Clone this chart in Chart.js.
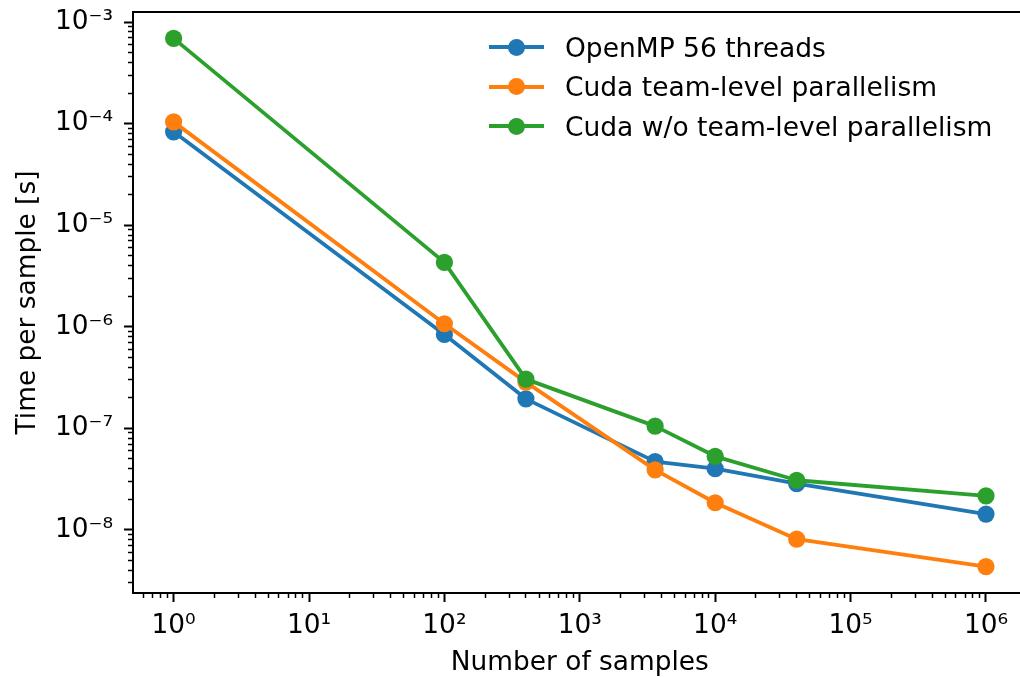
<!DOCTYPE html>
<html>
<head>
<meta charset="utf-8">
<title>Time per sample</title>
<script src="https://cdn.jsdelivr.net/npm/chart.js@4/dist/chart.umd.min.js"></script>
<style>
  html, body { margin: 0; padding: 0; background: #fff; overflow: hidden; }
  #wrap { position: relative; width: 1030px; height: 677px; }
  #legend { position: absolute; left: 489px; top: 27.6px; font-family: 'DejaVu Sans'; font-size: 26.5px; color: #000; }
  .item { display: flex; align-items: center; height: 39.4px; white-space: nowrap; }
  .key { position: relative; width: 55px; height: 39.4px; margin-right: 21px; }
  .key .line { position: absolute; left: 0; right: 0; top: 17.7px; height: 4px; }
  .key .dot { position: absolute; left: 18.5px; top: 11.2px; width: 17px; height: 17px; border-radius: 50%; }
</style>
</head>
<body>
<div id="wrap">
  <canvas id="chart" width="1030" height="677"></canvas>
  <div id="legend"></div>
</div>
<script>
// samples per run and measured time per sample [s]
const samples = [1, 100, 400, 3600, 10000, 40000, 1000000];
const openmp = [8.3e-5, 8.4e-7, 1.95e-7, 4.7e-8, 4.0e-8, 2.85e-8, 1.43e-8];
const cudaTeam = [1.04e-4, 1.07e-6, 2.85e-7, 3.9e-8, 1.85e-8, 8.1e-9, 4.35e-9];
const cudaNoTeam = [6.9e-4, 4.3e-6, 3.05e-7, 1.05e-7, 5.3e-8, 3.08e-8, 2.16e-8];

const seriesNames = ['OpenMP 56 threads', 'Cuda team-level parallelism', 'Cuda w/o team-level parallelism'];
const seriesColors = ['#1f77b4', '#ff7f0e', '#2ca02c'];
const seriesValues = [openmp, cudaTeam, cudaNoTeam];

// decade exponents that get a labelled tick
const xDecades = [0, 1, 2, 3, 4, 5, 6];
const yDecades = [-8, -7, -6, -5, -4, -3];

const FONT = 'DejaVu Sans';
const FONT_SIZE = 26.4;

// log limits padded by 5% of the data span, like matplotlib autoscaling
function logLimits(values) {
  const lo = Math.log10(Math.min(...values));
  const hi = Math.log10(Math.max(...values));
  const m = 0.05 * (hi - lo);
  return [Math.pow(10, lo - m), Math.pow(10, hi + m)];
}
const [xMin, xMax] = logLimits(samples);
const [yMin, yMax] = logLimits([...openmp, ...cudaTeam, ...cudaNoTeam]);

const SUP = { '-': '\u207B', '0': '\u2070', '1': '\u00B9', '2': '\u00B2', '3': '\u00B3',
  '4': '\u2074', '5': '\u2075', '6': '\u2076', '7': '\u2077', '8': '\u2078', '9': '\u2079' };
function powerLabel(value) {
  const e = Math.round(Math.log10(value));
  return '10' + String(e).split('').map(c => SUP[c]).join('');
}

function decadeTicks(exps) {
  return exps.map(e => ({ value: Number('1e' + e), major: true }));
}
function minorTicks(min, max) {
  const out = [];
  for (let e = Math.floor(Math.log10(min)); e <= Math.ceil(Math.log10(max)); e++) {
    for (let m = 2; m <= 9; m++) {
      const v = Number(m + 'e' + e);
      if (v >= min && v <= max) out.push({ value: v });
    }
  }
  return out;
}

const font = { family: FONT, size: FONT_SIZE, lineHeight: 1.2 };
const noPadding = s => { s.paddingLeft = 0; s.paddingRight = 0; s.paddingTop = 0; s.paddingBottom = 0; };

// legend as plain html
const legend = document.getElementById('legend');
seriesNames.forEach((name, i) => {
  const item = document.createElement('div');
  item.className = 'item';
  item.innerHTML = `<span class="key"><span class="line" style="background:${seriesColors[i]}"></span>` +
    `<span class="dot" style="background:${seriesColors[i]}"></span></span><span>${name}</span>`;
  legend.appendChild(item);
});

// axes box around the plotting area
const frame = {
  id: 'frame',
  afterDraw(chart) {
    const { ctx, chartArea: a } = chart;
    ctx.save();
    ctx.strokeStyle = '#000';
    ctx.lineWidth = 2;
    ctx.strokeRect(a.left, a.top, a.right - a.left, a.bottom - a.top);
    ctx.restore();
  }
};

new Chart(document.getElementById('chart'), {
  type: 'line',
  data: {
    datasets: seriesNames.map((name, i) => ({
      label: name,
      data: samples.map((x, j) => ({ x, y: seriesValues[i][j] })),
      borderColor: seriesColors[i],
      backgroundColor: seriesColors[i],
      pointBackgroundColor: seriesColors[i],
      borderWidth: 3.8,
      borderJoinStyle: 'round',
      pointRadius: 8.6,
      pointHoverRadius: 8.6,
      pointBorderWidth: 0,
      tension: 0,
      order: seriesNames.length - i
    }))
  },
  options: {
    responsive: false,
    animation: false,
    events: [],
    // right edge of the axes box sits just past the visible page
    layout: { autoPadding: false, padding: { top: 12, right: 3.4, left: 0, bottom: 0 } },
    plugins: { legend: { display: false }, tooltip: { enabled: false } },
    scales: {
      x: {
        type: 'logarithmic', position: 'bottom', weight: 1, bounds: 'data',
        min: xMin, max: xMax,
        afterBuildTicks: s => { s.ticks = decadeTicks(xDecades); },
        afterFit: s => { s.height = 84; noPadding(s); },
        border: { display: false },
        grid: { display: true, drawOnChartArea: false, tickLength: 9, tickWidth: 2, tickColor: '#000' },
        ticks: { autoSkip: false, maxRotation: 0, minRotation: 0, padding: 8, color: '#000', font,
          callback: v => powerLabel(v) },
        title: { display: true, text: 'Number of samples', color: '#000', font, padding: { top: 0, bottom: -2.4 } }
      },
      xm: {
        type: 'logarithmic', position: 'bottom', weight: 0, bounds: 'data',
        min: xMin, max: xMax,
        afterBuildTicks: s => { s.ticks = minorTicks(xMin, xMax); },
        afterFit: s => { s.height = 0; noPadding(s); },
        border: { display: false },
        grid: { display: true, drawOnChartArea: false, tickLength: 5, tickWidth: 1.5, tickColor: '#000' },
        ticks: { display: false, autoSkip: false }
      },
      y: {
        type: 'logarithmic', position: 'left', weight: 1, bounds: 'data',
        min: yMin, max: yMax,
        afterBuildTicks: s => { s.ticks = decadeTicks(yDecades); },
        afterFit: s => { s.width = 133; noPadding(s); },
        border: { display: false },
        grid: { display: true, drawOnChartArea: false, tickLength: 9, tickWidth: 2, tickColor: '#000' },
        ticks: { autoSkip: false, padding: 11, color: '#000', font, callback: v => powerLabel(v) },
        title: { display: true, text: 'Time per sample [s]', color: '#000', font, padding: { top: 12, bottom: 0 } }
      },
      ym: {
        type: 'logarithmic', position: 'left', weight: 0, bounds: 'data',
        min: yMin, max: yMax,
        afterBuildTicks: s => { s.ticks = minorTicks(yMin, yMax); },
        afterFit: s => { s.width = 0; noPadding(s); },
        border: { display: false },
        grid: { display: true, drawOnChartArea: false, tickLength: 5, tickWidth: 1.5, tickColor: '#000' },
        ticks: { display: false, autoSkip: false }
      }
    }
  },
  plugins: [frame]
});
</script>
</body>
</html>
